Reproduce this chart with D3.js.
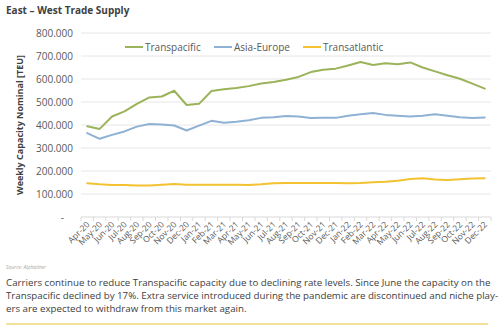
<!DOCTYPE html>
<html><head><meta charset="utf-8">
<script src="https://cdn.jsdelivr.net/npm/d3@7"></script>
<style>
body{margin:0;background:#fff;}
svg{display:block;font-family:"Open Sans",sans-serif;}
</style></head><body>
<svg id="c" width="500" height="332"></svg>
<script>
const months = ["Apr-20","May-20","Jun-20","Jul-20","Aug-20","Sep-20","Oct-20","Nov-20","Dec-20","Jan-21","Feb-21","Mar-21","Apr-21","May-21","Jun-21","Jul-21","Aug-21","Sep-21","Oct-21","Nov-21","Dec-21","Jan-22","Feb-22","Mar-22","Apr-22","May-22","Jun-22","Jul-22","Aug-22","Sep-22","Oct-22","Nov-22","Dec-22"];
const transpacific = [395,383,437,459,492,520,524,549,487,492,548,555,561,569,580,587,597,609,630,640,645,659,674,661,668,664,672,650,633,616,601,580,558];
const asiaEurope = [365,340,357,372,393,404,402,398,376,397,418,410,414,421,431,434,439,437,430,431,431,440,447,452,444,440,437,440,447,440,434,430,433];
const transatlantic = [147,142,139,139,137,137,140,143,140,140,140,140,140,139,142,147,148,148,148,148,148,147,148,151,153,158,165,168,163,161,164,167,169];
const yTicks = [0,100,200,300,400,500,600,700,800];
const seriesNames = ["Transpacific","Asia-Europe","Transatlantic"];
const seriesColors = ["#9bb35a","#8fb1d3","#f2c230"];
const series = [transpacific, asiaEurope, transatlantic];

const svg = d3.select("#c");
const mL = 81, mR = 491, mT = 33, mB = 217;
const x = d3.scaleBand().domain(months).range([mL, mR]);
const y = d3.scaleLinear().domain([0, 800]).range([mB, mT]);

svg.append("text").attr("x", 6).attr("y", 14).attr("font-size", 10)
  .attr("font-weight", "bold").attr("fill", "#404040").text("East – West Trade Supply");

// gridlines
svg.append("g").selectAll("line").data(yTicks.filter(d => d > 0)).join("line")
  .attr("x1", mL).attr("x2", mR).attr("y1", d => y(d)).attr("y2", d => y(d))
  .attr("stroke", "#e6e6e6").attr("stroke-width", 1);

// y tick labels
const fmt = d => d === 0 ? "-" : d3.format(",")(d * 1000).replace(/,/g, ".");
svg.append("g").selectAll("text").data(yTicks).join("text")
  .attr("x", d => d === 0 ? 64 : 73).attr("y", d => y(d) + 3.5).attr("text-anchor", "end")
  .attr("font-size", 10).attr("fill", "#595959").text(fmt);

// y axis title
svg.append("text").attr("transform", `translate(23,${(mT + mB) / 2}) rotate(-90)`)
  .attr("text-anchor", "middle").attr("font-size", 9).attr("font-weight", "bold")
  .attr("fill", "#404040").text("Weekly Capacity Nominal [TEU]");

// x axis
const xAxisG = svg.append("g");
xAxisG.append("line").attr("x1", mL).attr("x2", mR).attr("y1", mB).attr("y2", mB)
  .attr("stroke", "#d9d9d9");
const bounds = months.map(m => x(m)).concat([x(months[months.length - 1]) + x.bandwidth()]);
xAxisG.selectAll("line.t").data(bounds).join("line").attr("class", "t")
  .attr("x1", d => d).attr("x2", d => d).attr("y1", mB).attr("y2", mB + 4)
  .attr("stroke", "#d9d9d9");
xAxisG.selectAll("text").data(months).join("text")
  .attr("transform", d => `translate(${x(d) + x.bandwidth() / 2 + 3},${mB + 8}) rotate(-45)`)
  .attr("text-anchor", "end").attr("font-size", 8.5).attr("fill", "#595959").text(d => d);

// lines
const line = d3.line().x((d, i) => x(months[i]) + x.bandwidth() / 2).y(d => y(d));
svg.append("g").selectAll("path").data(series).join("path")
  .attr("d", d => line(d)).attr("fill", "none")
  .attr("stroke", (d, i) => seriesColors[i]).attr("stroke-width", 2)
  .attr("stroke-linejoin", "round").attr("stroke-linecap", "round");

// legend
const legX = [125, 214, 303];
const leg = svg.append("g").selectAll("g").data(seriesNames).join("g")
  .attr("transform", (d, i) => `translate(${legX[i]},47)`);
leg.append("line").attr("x1", 0).attr("x2", 18).attr("stroke", (d, i) => seriesColors[i]).attr("stroke-width", 2);
leg.append("text").attr("x", 20).attr("y", 3.5).attr("font-size", 10).attr("fill", "#595959").text(d => d);

// source
svg.append("text").attr("x", 6).attr("y", 269).attr("font-size", 5).attr("font-style", "italic")
  .attr("fill", "#a6a6a6").text("Source: Alphaliner");

// paragraph
const para = [
  "Carriers continue to reduce Transpacific capacity due to declining rate levels. Since June the capacity on the",
  "Transpacific declined by 17%. Extra service introduced during the pandemic are discontinued and niche play-",
  "ers are expected to withdraw from this market again."
];
const pt = svg.append("g").selectAll("text").data(para).join("text")
  .attr("x", 6).attr("y", (d, i) => 286 + i * 13).attr("font-size", 10).attr("fill", "#404040")
  .text(d => d);
const w0 = pt.nodes()[0].getComputedTextLength();
const fs = Math.min(10, 10 * 485 / w0);
pt.attr("font-size", fs).attr("word-spacing", 0);

svg.append("line").attr("x1", 6).attr("x2", 488).attr("y1", 324).attr("y2", 324)
  .attr("stroke", "#f0d878").attr("stroke-width", 1.5);
</script>
</body></html>
